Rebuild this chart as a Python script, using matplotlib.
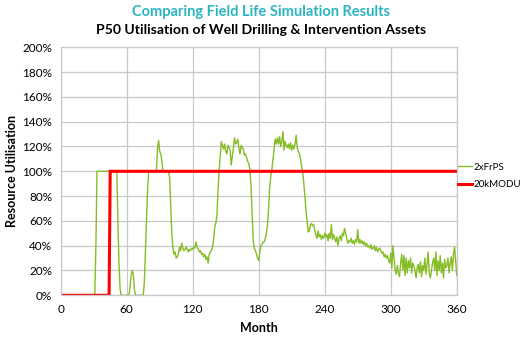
import matplotlib
matplotlib.use("Agg")
import matplotlib.pyplot as plt

plt.rcParams["font.family"] = ["Lato", "DejaVu Sans"]

# 2xFrPS utilisation (%), month -> value
frps_month = [
    0, 31, 32, 33, 51, 52, 53, 54, 55, 62, 63, 64, 65, 66, 67, 68, 75, 76, 77, 78,
    79, 80, 87, 88, 89, 90, 91, 92, 93, 98, 99, 100, 101, 102,
    103, 104, 105, 106, 107, 108, 109, 110, 111, 112, 113, 114, 115, 116, 117, 118,
    119, 120, 121, 122, 123, 124, 125, 126, 127, 128, 129, 130, 131, 132, 133, 134,
    135, 136, 137, 138, 139, 140, 141, 142, 143, 144, 145, 146, 147, 148, 149, 150,
    151, 152, 153, 154, 155, 156, 157, 158, 159, 160, 161, 162, 163, 164, 165, 166,
    167, 168, 169, 170, 171, 172, 173, 174, 175, 176, 177, 178, 179, 180, 181, 182,
    183, 184, 185, 186, 187, 188, 189, 190, 191, 192, 193, 194, 195, 196, 197, 198,
    199, 200, 201, 202, 203, 204, 205, 206, 207, 208, 209, 210, 211, 212, 213, 214,
    215, 216, 217, 218, 219, 220, 221, 222, 223, 224, 225, 226, 227, 228, 229, 230,
    231, 232, 233, 234, 235, 236, 237, 238, 239, 240, 241, 242, 243, 244, 245, 246,
    247, 248, 249, 250, 251, 252, 253, 254, 255, 256, 257, 258, 259, 260, 261, 262,
    263, 264, 265, 266, 267, 268, 269, 270, 271, 272, 273, 274, 275, 276, 277, 278,
    279, 280, 281, 282, 283, 284, 285, 286, 287, 288, 289, 290, 291, 292, 293, 294,
    295, 296, 297, 298, 299, 300, 301, 302, 303, 304, 305, 306, 307, 308, 309, 310,
    311, 312, 313, 314, 315, 316, 317, 318, 319, 320, 321, 322, 323, 324, 325, 326,
    327, 328, 329, 330, 331, 332, 333, 334, 335, 336, 337, 338, 339, 340, 341, 342,
    343, 344, 345, 346, 347, 348, 349, 350, 351, 352, 353, 354, 355, 356, 357, 358,
    359, 360,
]
frps_util = [
    0, 0, 40, 100, 100, 60, 25, 5, 0, 0, 6, 16, 20, 17, 5, 0, 0, 10, 35, 60,
    85, 100, 100, 118, 125, 116, 114, 108, 100, 100, 95, 72, 50, 38,
    33, 35, 30, 31, 33, 39, 36, 42, 38, 36, 37, 39, 37, 35, 37, 36,
    38, 37, 39, 38, 43, 39, 37, 35, 36, 33, 34, 31, 33, 29, 31, 26,
    33, 35, 36, 39, 45, 55, 58, 64, 85, 100, 112, 124, 121, 118, 122, 116,
    114, 121, 119, 117, 105, 112, 119, 127, 122, 123, 126, 118, 114, 121, 119, 118,
    113, 114, 111, 108, 106, 101, 88, 65, 44, 38, 36, 33, 30, 28, 35, 40,
    41, 43, 43, 46, 50, 57, 70, 88, 96, 102, 110, 118, 126, 122, 127, 122,
    128, 120, 124, 132, 117, 124, 121, 119, 122, 118, 123, 117, 121, 118, 122, 129,
    119, 116, 114, 110, 104, 99, 90, 80, 68, 60, 51, 52, 57, 58, 56, 57,
    52, 49, 46, 52, 47, 49, 45, 48, 46, 50, 47, 49, 44, 50, 46, 57,
    45, 49, 46, 43, 47, 40, 46, 48, 44, 50, 48, 54, 50, 46, 42, 44,
    43, 46, 42, 44, 41, 45, 43, 53, 42, 45, 42, 44, 41, 43, 40, 42,
    39, 40, 38, 41, 37, 38, 40, 36, 39, 35, 37, 38, 36, 34, 35, 31,
    33, 30, 32, 28, 26, 34, 22, 40, 30, 20, 17, 24, 18, 15, 26, 33,
    20, 32, 16, 30, 18, 28, 22, 30, 18, 26, 24, 20, 14, 22, 25, 18,
    27, 15, 24, 20, 30, 17, 25, 35, 18, 14, 20, 26, 30, 20, 35, 16,
    28, 20, 32, 18, 26, 14, 29, 22, 24, 30, 18, 26, 31, 20, 33, 39,
    28, 16,
]

# 20kMODU utilisation (%), month -> value
modu_month = [0, 44, 45, 360]
modu_util = [0, 0, 100, 100]

x_ticks = [0, 60, 120, 180, 240, 300, 360]
y_ticks = [0, 20, 40, 60, 80, 100, 120, 140, 160, 180, 200]

fig = plt.figure(figsize=(5.25, 3.4), dpi=100)
ax = fig.add_axes([0.1156, 0.1315, 0.7544, 0.7294])

ax.plot(frps_month, frps_util, color="#86bc25", linewidth=1.0, label="2xFrPS")
ax.plot(modu_month, modu_util, color="#ff0000", linewidth=2.2, label="20kMODU",
        solid_joinstyle="miter")

ax.set_xlim(0, 360)
ax.set_ylim(0, 200)
ax.set_xticks(x_ticks)
ax.set_yticks(y_ticks)
ax.set_yticklabels([f"{v}%" for v in y_ticks])
ax.tick_params(length=0, labelsize=8.5, pad=6)
ax.grid(True, color="#c8c8c8", linewidth=0.9)
ax.set_axisbelow(True)
for side in ax.spines.values():
    side.set_color("#c8c8c8")
    side.set_linewidth(0.9)

ax.set_xlabel("Month", fontsize=9, fontweight="bold", labelpad=5)
ax.set_ylabel("Resource Utilisation", fontsize=9, fontweight="bold", labelpad=3)

fig.text(0.497, 0.966, "Comparing Field Life Simulation Results", ha="center",
         va="center", fontsize=10.5, fontweight="bold", color="#2bb5c2")
fig.text(0.497, 0.912, "P50 Utilisation of Well Drilling & Intervention Assets",
         ha="center", va="center", fontsize=10.1, fontweight="bold", color="black")

fig.legend(loc="center left", bbox_to_anchor=(0.872, 1 - 176 / 340), frameon=False,
           fontsize=7.0, handlelength=1.5, handletextpad=0.15, labelspacing=0.85,
           borderpad=0, borderaxespad=0)

fig.savefig("out.png", dpi=100)
